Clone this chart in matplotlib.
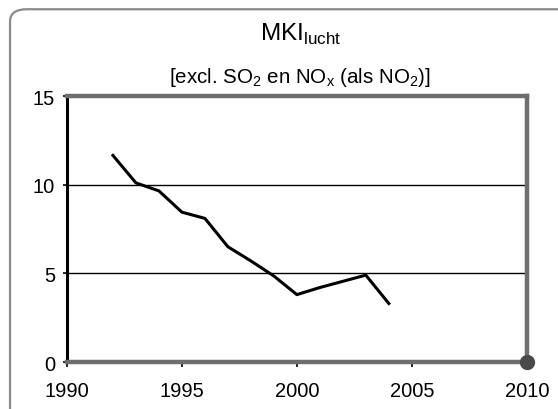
import matplotlib.pyplot as plt
from matplotlib.patches import FancyBboxPatch

# Data
years = [1992, 1993, 1994, 1995, 1996, 1997, 1998, 1999, 2000, 2001, 2002, 2003, 2004]
values = [11.65, 10.1, 9.65, 8.45, 8.1, 6.5, 5.7, 4.85, 3.8, 4.2, 4.55, 4.9, 3.3]
target_year = [2010]
target_value = [0]
x_ticks = [1990, 1995, 2000, 2005, 2010]
y_ticks = [0, 5, 10, 15]

plt.rcParams['font.family'] = ['Liberation Sans', 'DejaVu Sans']

fig = plt.figure(figsize=(5.58, 4.10), dpi=100)

# Rounded outer frame
frame = FancyBboxPatch(
    (0.018, -0.05), 1.2, 1.025,
    boxstyle="round,pad=0,rounding_size=0.03",
    transform=fig.transFigure,
    facecolor="white", edgecolor="#8a8a8a", linewidth=1.6,
    zorder=0
)
fig.patches.append(frame)

ax = fig.add_axes([0.120, 0.1146, 0.824, 0.6488])
ax.set_zorder(2)
ax.set_facecolor("none")

ax.plot(years, values, color="black", linewidth=2.2, zorder=3)
ax.plot(target_year, target_value, "o", markersize=10,
        color="#4a4a4a", markeredgecolor="#4a4a4a", clip_on=False, zorder=5)

ax.set_xlim(1990, 2010)
ax.set_ylim(0, 15)
ax.set_xticks(x_ticks)
ax.set_yticks(y_ticks)
ax.tick_params(axis="x", labelsize=14.5, length=3.5, width=1.2, color="black", pad=10)
ax.tick_params(axis="y", labelsize=14.5, length=3, width=1.2, color="black", pad=5.5)

for y in [5, 10]:
    ax.axhline(y, color="black", linewidth=1.0, zorder=1)

ax.spines["left"].set_color("black")
ax.spines["left"].set_linewidth(2.2)
for side in ["top", "right", "bottom"]:
    ax.spines[side].set_color("#6e6e6e")
    ax.spines[side].set_linewidth(3.2)

fig.text(0.538, 0.915, r"MKI$_{\mathregular{lucht}}$", ha="center", va="center", fontsize=17.5)
fig.text(0.538, 0.81, r"[excl. SO$_{\mathregular{2}}$ en NO$_{\mathregular{x}}$ (als NO$_{\mathregular{2}}$)]",
         ha="center", va="center", fontsize=14.8)

fig.savefig("out.png", dpi=100)
